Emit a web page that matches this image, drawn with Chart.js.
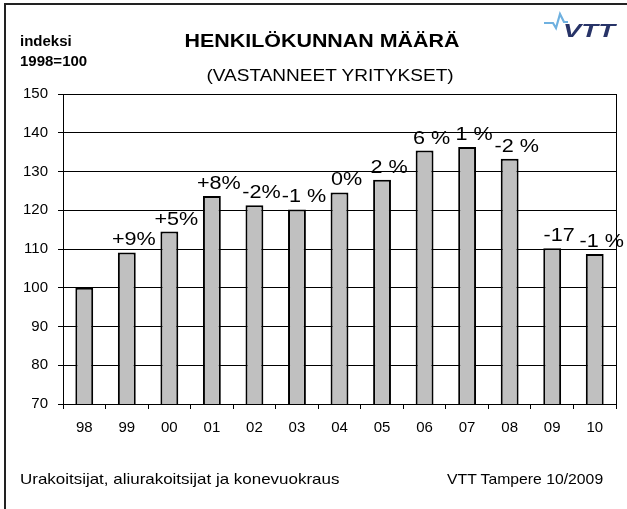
<!DOCTYPE html>
<html>
<head>
<meta charset="utf-8">
<script src="https://cdn.jsdelivr.net/npm/chart.js@4.4.0/dist/chart.umd.min.js"></script>
<style>
  body { margin: 0; background: #fff; }
  #wrap { position: relative; width: 627px; height: 509px; overflow: hidden; background: #fff; font-family: Arial, "Liberation Sans", sans-serif; }
  #c { position: absolute; left: 0; top: 0; }
  .frame { position: absolute; left: 4px; top: 3px; width: 700px; height: 600px; border-left: 2px solid #222; border-top: 2px solid #222; }
  .txt { position: absolute; white-space: nowrap; line-height: 1; color: #000; }
  .center { transform-origin: center top; }
  .left { transform-origin: left top; }
</style>
</head>
<body>
<div id="wrap">
  <canvas id="c" width="627" height="509"></canvas>
  <div class="frame"></div>
  <div class="txt" style="left:20px;top:33px;font-size:15px;font-weight:bold;">indeksi</div>
  <div class="txt" style="left:20px;top:53px;font-size:15px;font-weight:bold;">1998=100</div>
  <div class="txt center" style="left:322px;top:32px;font-size:18px;font-weight:bold;transform:translateX(-50%) scaleX(1.19);">HENKILÖKUNNAN MÄÄRÄ</div>
  <div class="txt center" style="left:330px;top:68px;font-size:16px;transform:translateX(-50%) scaleX(1.19);">(VASTANNEET YRITYKSET)</div>
  <div class="txt left" style="left:20px;top:471px;font-size:15px;transform:scaleX(1.13);">Urakoitsijat, aliurakoitsijat ja konevuokraus</div>
  <div class="txt left" style="left:447px;top:471px;font-size:15px;transform:scaleX(1.05);">VTT Tampere 10/2009</div>
  <!-- VTT logo -->
  <svg style="position:absolute;left:540px;top:10px;" width="80" height="32">
    <polyline points="4,13 13,13 16,18 20,4 24,12 28,12" fill="none" stroke="#6fb1e0" stroke-width="2.2"/>
    <text x="23" y="27" font-family="Arial, 'Liberation Sans', sans-serif" font-weight="bold" font-style="italic" font-size="19" fill="#283468" textLength="52" lengthAdjust="spacingAndGlyphs">VTT</text>
  </svg>
</div>
<script>
// vuodet ja indeksi (1998=100)
const years = ['98', '99', '00', '01', '02', '03', '04', '05', '06', '07', '08', '09', '10'];
const index = [100, 109.1, 114.5, 123.7, 121.3, 120.2, 124.6, 127.9, 135.4, 136.3, 133.3, 110.2, 108.7];
const changes = ['', '+9%', '+5%', '+8%', '-2%', '-1 %', '0%', '2 %', '6 %', '1 %', '-2 %', '-17', '-1 %'];
const yTicks = [70, 80, 90, 100, 110, 120, 130, 140, 150];

// muutosprosentit pylväiden päälle
const changeLabels = {
    id: 'changeLabels',
    afterDatasetsDraw(chart) {
        const ctx = chart.ctx;
        const bars = chart.getDatasetMeta(0).data;
        ctx.save();
        ctx.font = '18px Arial, "Liberation Sans", sans-serif';
        ctx.fillStyle = '#000';
        ctx.textAlign = 'center';
        ctx.textBaseline = 'alphabetic';
        bars.forEach((bar, i) => {
            if (!changes[i]) return;
            ctx.save();
            ctx.translate(bar.x + 7, bar.y - 7);
            ctx.scale(1.2, 1);
            ctx.fillText(changes[i], 0, 0);
            ctx.restore();
        });
        ctx.restore();
    }
};

// kuvaalueen oikea reuna
const plotBorder = {
    id: 'plotBorder',
    afterDraw(chart) {
        const a = chart.chartArea;
        const ctx = chart.ctx;
        ctx.save();
        ctx.strokeStyle = '#000';
        ctx.lineWidth = 1;
        ctx.beginPath();
        ctx.moveTo(Math.round(a.right) + 0.5, a.top);
        ctx.lineTo(Math.round(a.right) + 0.5, a.bottom);
        ctx.stroke();
        ctx.restore();
    }
};

const chart = new Chart(document.getElementById('c'), {
    type: 'bar',
    data: {
        labels: years,
        datasets: [{
            data: index,
            backgroundColor: '#c0c0c0',
            borderColor: '#000',
            borderWidth: 2,
            barPercentage: 0.42,
            categoryPercentage: 1
        }]
    },
    options: {
        responsive: false,
        animation: false,
        devicePixelRatio: 1,
        layout: { padding: { top: 94, right: 11, left: 0, bottom: 0 } },
        plugins: { legend: { display: false }, tooltip: { enabled: false } },
        scales: {
            y: {
                min: yTicks[0],
                max: yTicks[yTicks.length - 1],
                afterBuildTicks: s => { s.ticks = yTicks.map(v => ({ value: v })); },
                afterFit: s => { s.width = 63; },
                ticks: { color: '#000', padding: 10, font: { family: 'Arial, "Liberation Sans", sans-serif', size: 15 } },
                grid: { color: '#000', lineWidth: 1, tickLength: 5 },
                border: { color: '#000', width: 1 }
            },
            x: {
                afterFit: s => { s.height = 105; },
                ticks: { color: '#000', padding: 10, font: { family: 'Arial, "Liberation Sans", sans-serif', size: 15 } },
                grid: { drawOnChartArea: false, color: '#000', tickLength: 5 },
                border: { color: '#000', width: 1 }
            }
        }
    },
    plugins: [changeLabels, plotBorder]
});
</script>
</body>
</html>
